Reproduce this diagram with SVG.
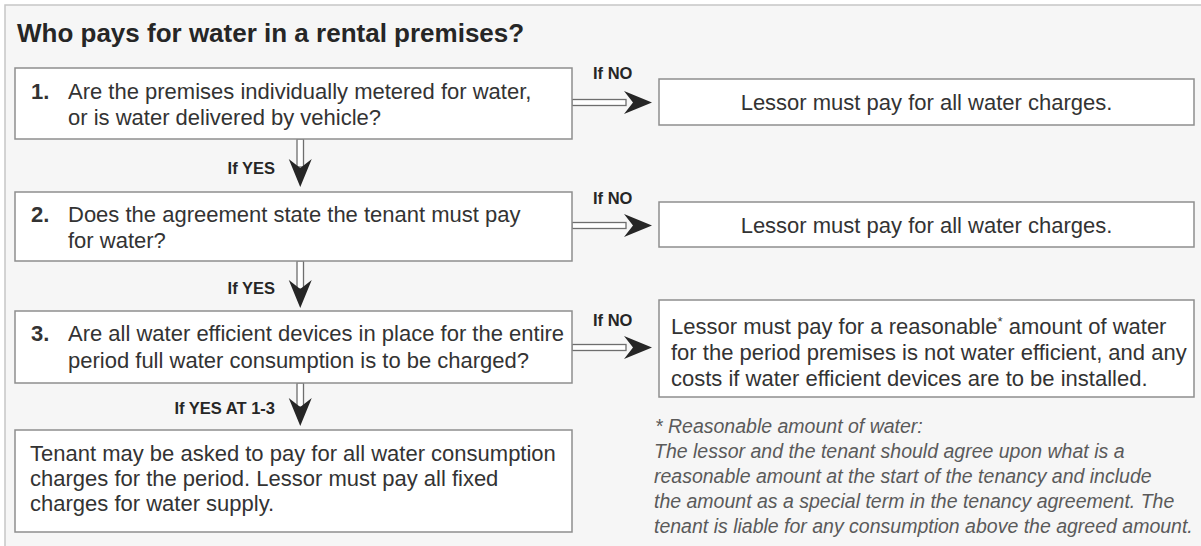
<svg xmlns="http://www.w3.org/2000/svg" xmlns:xlink="http://www.w3.org/1999/xlink" width="1201" height="546" viewBox="0 0 1201 546">
<defs>
<style>
.frame{fill:#f6f6f6;stroke:#c6c6c6;stroke-width:1.5}
.box{fill:#ffffff;stroke:#8e8e8e;stroke-width:1.5}
.t{font-family:"Liberation Sans",Arial,sans-serif;font-size:22px;fill:#333}
.n{font-family:"Liberation Sans",Arial,sans-serif;font-size:22px;font-weight:bold;fill:#333}
.title{font-family:"Liberation Sans",Arial,sans-serif;font-size:26px;font-weight:bold;fill:#262626}
.lbl{font-family:"Liberation Sans",Arial,sans-serif;font-size:16.5px;font-weight:bold;fill:#262626}
.note{font-family:"Liberation Sans",Arial,sans-serif;font-size:19.5px;font-style:italic;fill:#5a5a5a}
.shaft{fill:#ffffff;stroke:#6e6e6e;stroke-width:1.3}
.head{fill:#262626}
</style>
<path id="hd" d="M-11.5,-28 L0,0 L11.5,-28 L0,-19 Z"/>
</defs>
<rect x="0" y="0" width="1201" height="546" fill="#ffffff"/>
<rect class="frame" x="5" y="5" width="1220" height="560"/>
<text class="title" x="17" y="42">Who pays for water in a rental premises?</text>

<g id="connectors">
  <rect class="shaft" x="572" y="99.5" width="54" height="6"/>
  <use xlink:href="#hd" class="head" transform="translate(652,102.5) rotate(-90)"/>
  <rect class="shaft" x="572" y="222.5" width="54" height="6"/>
  <use xlink:href="#hd" class="head" transform="translate(652,225.5) rotate(-90)"/>
  <rect class="shaft" x="572" y="344.5" width="54" height="6"/>
  <use xlink:href="#hd" class="head" transform="translate(652,347.5) rotate(-90)"/>
  <rect class="shaft" x="297" y="139" width="6.5" height="28"/>
  <use xlink:href="#hd" class="head" transform="translate(300.25,187)"/>
  <rect class="shaft" x="297" y="261" width="6.5" height="28"/>
  <use xlink:href="#hd" class="head" transform="translate(300.25,308)"/>
  <rect class="shaft" x="297" y="383" width="6.5" height="24"/>
  <use xlink:href="#hd" class="head" transform="translate(300.25,426)"/>
  <text class="lbl" x="593" y="79">If NO</text>
  <text class="lbl" x="593" y="204">If NO</text>
  <text class="lbl" x="593" y="326">If NO</text>
  <text class="lbl" x="275" y="174" text-anchor="end">If YES</text>
  <text class="lbl" x="275" y="294" text-anchor="end">If YES</text>
  <text class="lbl" x="275" y="414" text-anchor="end">If YES AT 1-3</text>
</g>

<g id="q1">
  <rect class="box" x="15" y="68" width="557" height="71"/>
  <text class="n" x="31" y="99">1.</text>
  <text class="t" x="68" y="99">Are the premises individually metered for water,</text>
  <text class="t" x="68" y="125">or is water delivered by vehicle?</text>
</g>
<g id="r1">
  <rect class="box" x="659" y="79" width="535" height="46"/>
  <text class="t" x="926.5" y="110" text-anchor="middle">Lessor must pay for all water charges.</text>
</g>
<g id="q2">
  <rect class="box" x="15" y="192" width="557" height="69"/>
  <text class="n" x="31" y="222">2.</text>
  <text class="t" x="68" y="222">Does the agreement state the tenant must pay</text>
  <text class="t" x="68" y="248">for water?</text>
</g>
<g id="r2">
  <rect class="box" x="659" y="202" width="535" height="45"/>
  <text class="t" x="926.5" y="233" text-anchor="middle">Lessor must pay for all water charges.</text>
</g>
<g id="q3">
  <rect class="box" x="15" y="311" width="557" height="72"/>
  <text class="n" x="31" y="341">3.</text>
  <text class="t" x="68" y="341">Are all water efficient devices in place for the entire</text>
  <text class="t" x="68" y="368">period full water consumption is to be charged?</text>
</g>
<g id="r3">
  <rect class="box" x="659" y="300" width="535" height="97"/>
  <text class="t" x="671" y="334">Lessor must pay for a reasonable<tspan font-size="13" dy="-8">*</tspan><tspan dy="8"> amount of water</tspan></text>
  <text class="t" x="671" y="360">for the period premises is not water efficient, and any</text>
  <text class="t" x="671" y="386">costs if water efficient devices are to be installed.</text>
</g>
<g id="result">
  <rect class="box" x="15" y="430" width="557" height="102"/>
  <text class="t" x="30" y="461">Tenant may be asked to pay for all water consumption</text>
  <text class="t" x="30" y="486">charges for the period. Lessor must pay all fixed</text>
  <text class="t" x="30" y="511">charges for water supply.</text>
</g>
<g id="footnote">
  <text class="note" x="655" y="433">* Reasonable amount of water:</text>
  <text class="note" x="654" y="458">The lessor and the tenant should agree upon what is a</text>
  <text class="note" x="654" y="483">reasonable amount at the start of the tenancy and include</text>
  <text class="note" x="654" y="508">the amount as a special term in the tenancy agreement. The</text>
  <text class="note" x="654" y="533">tenant is liable for any consumption above the agreed amount.</text>
</g>
</svg>
